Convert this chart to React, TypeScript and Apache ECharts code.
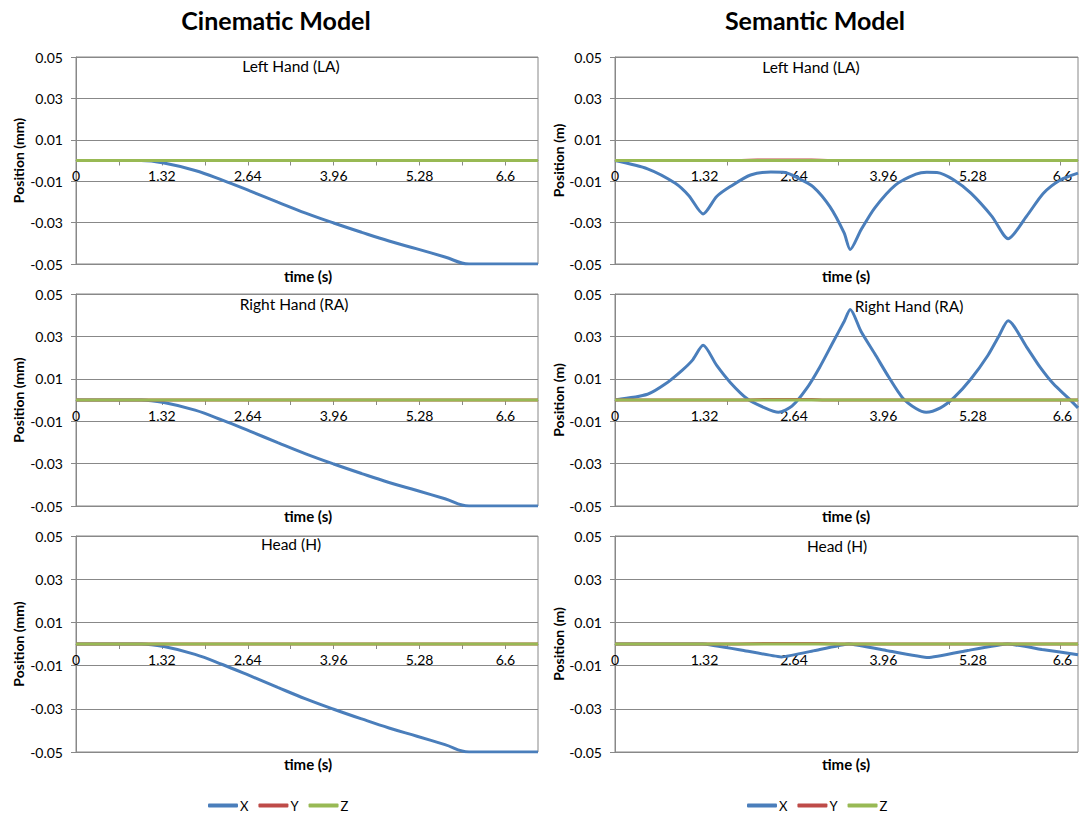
import React, { useEffect, useRef } from 'react';
import * as echarts from 'echarts';

// ---------- data ----------
const seriesNames = ['X', 'Y', 'Z'];
const yTickValues = [-0.05, -0.03, -0.01, 0.01, 0.03, 0.05];
const xLabelValues = [0, 1.32, 2.64, 3.96, 5.28, 6.6];
const cinTickValues = [0, 0.66, 1.32, 1.98, 2.64, 3.3, 3.96, 4.62, 5.28, 5.94, 6.6];
const semTickValues = [0, 1.65, 3.29, 4.93, 6.57];
const cinMaxTime = 7.1;
const semMaxTime = 6.83;

// Cinematic model (same motion for LA, RA and H)
const cinT = [0, 0.5, 1.0, 1.35, 1.83, 2.25, 2.68, 3.1, 3.53, 3.96, 4.39, 4.81, 5.24, 5.67, 6.04, 6.5, 7.1];
const cinX = [0, 0, 0, -0.0012, -0.0048, -0.0095, -0.0148, -0.0201, -0.0254, -0.0302, -0.0347, -0.0389, -0.0427, -0.0466, -0.05, -0.05, -0.05];
const cinFlatT = [0, 7.1];
const cinY = [0, 0];
const cinZ = [0, 0];

// Semantic model, Left Hand
const semLaT = [0, 0.48, 0.89, 1.09, 1.3, 1.5, 1.7, 2.0, 2.3, 2.51, 2.7, 2.92, 3.17, 3.38, 3.47, 3.63, 3.83, 4.14, 4.44, 4.6, 4.75, 5.0, 5.25, 5.56, 5.8, 6.07, 6.32, 6.57, 6.83];
const semLaX = [0, -0.004, -0.011, -0.017, -0.0258, -0.0174, -0.0126, -0.007, -0.0056, -0.0058, -0.0085, -0.0126, -0.0223, -0.035, -0.043, -0.0335, -0.023, -0.0118, -0.0066, -0.0057, -0.0058, -0.0094, -0.0158, -0.027, -0.0378, -0.027, -0.0158, -0.0094, -0.0061];
const semLaYT = [0, 1.8, 2.1, 2.5, 2.9, 3.2, 6.83];
const semLaY = [0, 0, 0.0002, 0.00025, 0.0002, 0, 0];

// Semantic model, Right Hand
const semRaT = [0, 0.48, 0.74, 0.99, 1.14, 1.3, 1.5, 1.7, 1.95, 2.21, 2.41, 2.61, 2.82, 3.02, 3.22, 3.38, 3.47, 3.63, 3.83, 4.04, 4.24, 4.44, 4.59, 4.8, 5.0, 5.25, 5.5, 5.66, 5.8, 6.07, 6.27, 6.47, 6.68, 6.83];
const semRaX = [0, 0.0027, 0.0075, 0.014, 0.0187, 0.0258, 0.0163, 0.0083, 0.0006, -0.0037, -0.0058, -0.0029, 0.0051, 0.0155, 0.0275, 0.037, 0.0427, 0.0323, 0.0219, 0.0107, 0.0011, -0.004, -0.0058, -0.0037, 0.0011, 0.0099, 0.021, 0.03, 0.0374, 0.0251, 0.0155, 0.0075, 0.0011, -0.0037];
const semRaYT = [0, 1.9, 2.2, 2.5, 2.9, 3.1, 6.83];
const semRaY = [0, 0, 0.0002, 0.00025, 0.0002, 0, 0];

// Semantic model, Head
const semHT = [0, 1.29, 1.9, 2.46, 2.95, 3.45, 4.0, 4.62, 5.2, 5.79, 6.3, 6.83];
const semHX = [0, 0, -0.003, -0.006, -0.003, 0, -0.003, -0.0063, -0.003, 0, -0.0025, -0.005];
const semHYT = [0, 1.8, 2.2, 2.6, 3.0, 3.3, 6.83];
const semHY = [0, 0, 0.0002, 0.00025, 0.0002, 0, 0];

const semFlatT = [0, 6.83];
const semZ = [0, 0];

const panelTitles = ['Left Hand (LA)', 'Right Hand (RA)', 'Head (H)'];
const modelTitles = ['Cinematic Model', 'Semantic Model'];
const yNames = ['Position (mm)', 'Position (m)'];
const xName = 'time (s)';

// ---------- styles / layout ----------
const COLORS = ['#4A7EBB', '#BE4B48', '#98B954'];
const GRID_COLOR = '#888888';
const FONT = 'Lato';

const rows = [
  { top: 57, height: 207, titleTop: [58, 59], nameTop: 268 },
  { top: 294, height: 212, titleTop: [296, 298], nameTop: 508 },
  { top: 536, height: 216, titleTop: [536, 538], nameTop: 756 },
];
const cols = [
  { left: 76, width: 462, titleX: [291, 294, 291], nameX: 308, nameGap: 51 },
  { left: 615, width: 463, titleX: [811, 909, 837], nameX: 846, nameGap: 49 },
];

const zip = (t: number[], v: number[]) => t.map((x, i) => [x, v[i]]);

function buildOption() {
  const grid: any[] = [];
  const xAxis: any[] = [];
  const yAxis: any[] = [];
  const series: any[] = [];
  const title: any[] = [];

  const panelData = [
    [
      [zip(cinT, cinX), zip(cinFlatT, cinY), zip(cinFlatT, cinZ)],
      [zip(cinT, cinX), zip(cinFlatT, cinY), zip(cinFlatT, cinZ)],
      [zip(cinT, cinX), zip(cinFlatT, cinY), zip(cinFlatT, cinZ)],
    ],
    [
      [zip(semLaT, semLaX), zip(semLaYT, semLaY), zip(semFlatT, semZ)],
      [zip(semRaT, semRaX), zip(semRaYT, semRaY), zip(semFlatT, semZ)],
      [zip(semHT, semHX), zip(semHYT, semHY), zip(semFlatT, semZ)],
    ],
  ];

  modelTitles.forEach((t, c) => {
    title.push({
      text: t,
      left: c === 0 ? 276 : 815,
      top: 7,
      textAlign: 'center',
      padding: 0,
      textStyle: { fontFamily: FONT, fontSize: 25, fontWeight: 'bold', color: '#000' },
    });
  });

  let idx = 0;
  cols.forEach((col, c) => {
    rows.forEach((row, r) => {
      grid.push({
        left: col.left,
        top: row.top,
        width: col.width,
        height: row.height,
        show: true,
        borderColor: GRID_COLOR,
        borderWidth: 1,
        backgroundColor: '#fff',
        containLabel: false,
      });
      xAxis.push({
        type: 'value',
        gridIndex: idx,
        position: 'bottom',
        offset: -row.height / 2,
        min: 0,
        max: c === 0 ? cinMaxTime : semMaxTime,
        axisLine: { show: true, onZero: false, lineStyle: { color: GRID_COLOR } },
        axisTick: {
          show: true,
          length: 5,
          customValues: c === 0 ? cinTickValues : semTickValues,
          lineStyle: { color: GRID_COLOR },
        },
        axisLabel: {
          customValues: xLabelValues,
          margin: 8,
          fontFamily: FONT,
          fontSize: 14,
          color: '#000',
          formatter: (v: number) => String(Math.round(v * 100) / 100),
        },
        splitLine: { show: false },
      });
      yAxis.push({
        type: 'value',
        gridIndex: idx,
        min: -0.05,
        max: 0.05,
        name: yNames[c],
        nameLocation: 'middle',
        nameRotate: 90,
        nameGap: col.nameGap,
        nameTextStyle: { fontFamily: FONT, fontSize: 14, fontWeight: 'bold', color: '#000' },
        axisLine: { show: true, onZero: false, lineStyle: { color: GRID_COLOR } },
        axisTick: { show: true, length: 5, customValues: yTickValues, lineStyle: { color: GRID_COLOR } },
        axisLabel: {
          customValues: yTickValues,
          margin: 13,
          fontFamily: FONT,
          fontSize: 14,
          color: '#000',
          formatter: (v: number) => v.toFixed(2),
        },
        splitLine: { show: true, lineStyle: { color: GRID_COLOR, width: 1 } },
      });
      title.push({
        text: panelTitles[r],
        left: col.titleX[r],
        top: row.titleTop[c],
        textAlign: 'center',
        padding: 0,
        textStyle: { fontFamily: FONT, fontSize: 15.5, fontWeight: 'normal', color: '#000' },
      });
      title.push({
        text: xName,
        left: col.nameX,
        top: row.nameTop,
        textAlign: 'center',
        padding: 0,
        textStyle: { fontFamily: FONT, fontSize: 15, fontWeight: 'bold', color: '#000' },
      });
      const smoothVal = c === 0 ? 0.4 : r === 2 ? 0.1 : 0.25;
      panelData[c][r].forEach((d, s) => {
        series.push({
          name: seriesNames[s],
          type: 'line',
          xAxisIndex: idx,
          yAxisIndex: idx,
          data: d,
          symbol: 'none',
          showSymbol: false,
          smooth: smoothVal,
          color: COLORS[s],
          lineStyle: { color: COLORS[s], width: 3 },
          z: 2 + s,
        });
      });
      idx++;
    });
  });

  const legendBase = {
    data: seriesNames,
    top: 799,
    padding: 0,
    icon: 'roundRect',
    itemWidth: 30,
    itemHeight: 4,
    itemGap: 10,
    textStyle: { fontFamily: FONT, fontSize: 13, color: '#000', padding: [0, 0, 0, -3] },
  };

  return {
    animation: false,
    backgroundColor: '#fff',
    title,
    grid,
    xAxis,
    yAxis,
    series,
    legend: [
      { ...legendBase, left: 208 },
      { ...legendBase, left: 747 },
    ],
  };
}

export default function App() {
  const ref = useRef<HTMLDivElement>(null);
  useEffect(() => {
    if (!ref.current) return;
    const chart = echarts.init(ref.current, null, { renderer: 'svg' });
    chart.setOption(buildOption() as any);
    return () => chart.dispose();
  }, []);
  return (
    <div
      ref={ref}
      style={{ position: 'fixed', left: 0, top: 0, width: 1081, height: 819, background: '#fff' }}
    />
  );
}
